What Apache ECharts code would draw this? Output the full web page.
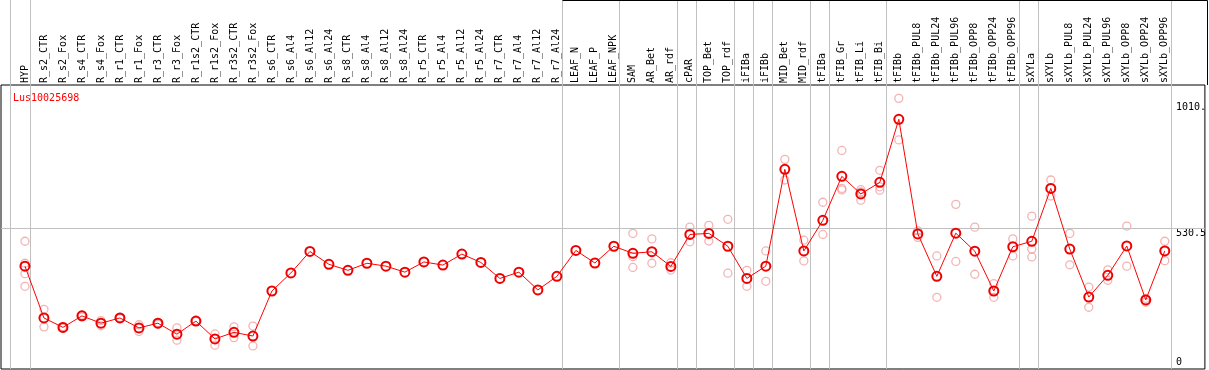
<!DOCTYPE html>
<html>
<head>
<meta charset="utf-8">
<script src="https://cdn.jsdelivr.net/npm/echarts@6/dist/echarts.min.js"></script>
<style>
html,body{margin:0;padding:0;background:#fff;}
#chart{width:1209px;height:370px;}
</style>
</head>
<body>
<div id="chart"></div>
<script>
const categories = ['HYP','R_s2_CTR','R_s2_Fox','R_s4_CTR','R_s4_Fox','R_r1_CTR','R_r1_Fox','R_r3_CTR','R_r3_Fox','R_r1s2_CTR',
  'R_r1s2_Fox','R_r3s2_CTR','R_r3s2_Fox','R_s6_CTR','R_s6_Al4','R_s6_Al12','R_s6_Al24','R_s8_CTR','R_s8_Al4','R_s8_Al12',
  'R_s8_Al24','R_r5_CTR','R_r5_Al4','R_r5_Al12','R_r5_Al24','R_r7_CTR','R_r7_Al4','R_r7_Al12','R_r7_Al24','LEAF_N',
  'LEAF_P','LEAF_NPK','SAM','AR_Bet','AR_rdf','cPAR','TOP_Bet','TOP_rdf','iFIBa','iFIBb',
  'MID_Bet','MID_rdf','tFIBa','tFIB_Gr','tFIB_Li','tFIB_Bi','tFIBb','tFIBb_PUL8','tFIBb_PUL24','tFIBb_PUL96',
  'tFIBb_OPP8','tFIBb_OPP24','tFIBb_OPP96','sXYLa','sXYLb','sXYLb_PUL8','sXYLb_PUL24','sXYLb_PUL96','sXYLb_OPP8','sXYLb_OPP24',
  'sXYLb_OPP96'];

const meanValues = [386,188,152,196,168,188,150,168,126,176,
  108,133,119,291,360,442,393,370,397,386,
  363,402,390,432,400,339,363,295,347,446,
  398,462,435,441,385,507,511,462,339,386,
  756,444,561,729,662,706,947,509,347,512,
  443,291,460,481,683,451,268,351,463,257,
  444];

const rep1 = [481,221,155,199,178,190,162,171,150,178,
  127,154,157,null,null,null,null,null,null,null,
  null,null,null,null,null,null,null,null,null,null,
  null,null,511,490,399,535,542,565,370,444,
  794,485,630,828,670,752,1027,521,425,622,
  535,319,490,577,715,511,306,372,539,263,
  481];

const rep2 = [397,154,149,192,158,186,136,164,103,175,
  84,113,81,null,null,null,null,null,null,null,
  null,null,null,null,null,null,null,null,null,null,
  null,null,422,397,371,479,482,359,309,328,
  715,406,507,683,678,689,868,496,267,404,
  355,267,425,451,654,391,229,332,386,248,
  407];

const rep3 = [357,null,null,null,null,null,null,null,null,null,
  null,null,null,null,null,null,null,null,null,null,
  null,null,null,null,null,null,null,null,null,null,
  null,null,381,null,null,null,null,null,null,null,
  null,null,null,677,638,676,null,null,null,null,
  null,null,null,421,null,null,null,null,null,null,
  null];

const rep4 = [309,null,null,null,null,null,null,null,null,null,
  null,null,null,null,null,null,null,null,null,null,
  null,null,null,null,null,null,null,null,null,null,
  null,null,null,null,null,null,null,null,null,null,
  null,null,null,null,null,null,null,null,null,null,
  null,null,null,null,null,null,null,null,null,null,
  null];

const yTopTicks = [530.5, 1010];
const yTopLabels = ['530.5', '1010.'];
const yBottomTicks = [0];
const yBottomLabels = ['0'];
const groupEnds = [0, 28, 31, 34, 35, 37, 38, 39, 41, 42, 45, 52, 53, 60];
const seriesName = 'Lus10025698';

const FONT = 'DejaVu Sans Mono';
const xMin = -1.261, xMax = 62.112;
const yMin = -7, yMax = 1078;
const separators = [-0.79].concat(groupEnds.map(i => i + 0.25));

function pts(arr) {
  const out = [];
  arr.forEach((v, i) => { if (v !== null) out.push([i, v]); });
  return out;
}

const repStyle = {
  type: 'scatter', xAxisIndex: 1, yAxisIndex: 1,
  symbol: 'circle', symbolSize: 8,
  itemStyle: { color: 'rgba(0,0,0,0)', borderColor: '#f0a0a0', borderWidth: 1.3 },
  z: 3, silent: true
};

function yLabelAxis(ticks, labels, vAlign) {
  return {
    gridIndex: 1, type: 'value', min: yMin, max: yMax, position: 'right',
    axisLine: { show: false }, axisTick: { show: false }, splitLine: { show: false },
    axisLabel: {
      inside: true, customValues: ticks, align: 'left', margin: 29, verticalAlign: vAlign,
      color: '#000', fontFamily: FONT, fontSize: 10,
      formatter: v => { const k = ticks.indexOf(v); return k >= 0 ? labels[k] : String(v); }
    }
  };
}

const chart = echarts.init(document.getElementById('chart'), null, { renderer: 'canvas' });
chart.setOption({
  animation: false,
  textStyle: { fontFamily: FONT },
  title: {
    text: seriesName, left: 8, top: 88,
    textStyle: { color: '#ff0000', fontSize: 10, fontWeight: 'normal', fontFamily: FONT }
  },
  grid: [
    { left: 1, right: 2, top: 0, bottom: 1, show: false },
    { left: 1, right: 2, top: 85, bottom: 1, show: true, borderColor: '#000', borderWidth: 1, backgroundColor: 'transparent' }
  ],
  xAxis: [
    { gridIndex: 0, type: 'value', min: xMin, max: xMax, show: false },
    {
      gridIndex: 1, type: 'value', min: xMin, max: xMax, position: 'top',
      axisLine: { show: false }, axisTick: { show: false }, splitLine: { show: false },
      axisLabel: {
        customValues: categories.map((c, i) => i),
        formatter: v => categories[Math.round(v)],
        rotate: 90, margin: 2, fontSize: 10, color: '#000', fontFamily: FONT
      }
    }
  ],
  yAxis: [
    { gridIndex: 0, type: 'value', min: 0, max: 1, show: false },
    yLabelAxis(yTopTicks, yTopLabels, 'top'),
    yLabelAxis(yBottomTicks, yBottomLabels, 'bottom')
  ],
  graphic: [
    { type: 'polyline', shape: { points: [[562.5, 0.5], [1207.5, 0.5], [1207.5, 85]] },
      style: { stroke: '#000', lineWidth: 1, fill: null }, silent: true, z: 10 }
  ],
  series: [
    {
      type: 'scatter', xAxisIndex: 0, yAxisIndex: 0, data: [], silent: true, z: 1,
      markLine: {
        silent: true, symbol: ['none', 'none'], label: { show: false }, animation: false,
        lineStyle: { color: '#c0c0c0', width: 1, type: 'solid' },
        data: separators.map(v => ({ xAxis: v }))
      }
    },
    Object.assign({}, repStyle, {
      data: pts(rep1),
      markLine: {
        silent: true, symbol: ['none', 'none'], label: { show: false }, animation: false,
        lineStyle: { color: '#c0c0c0', width: 1, type: 'solid' },
        data: [{ yAxis: yTopTicks[0] }]
      }
    }),
    Object.assign({}, repStyle, { data: pts(rep2) }),
    Object.assign({}, repStyle, { data: pts(rep3) }),
    Object.assign({}, repStyle, { data: pts(rep4) }),
    {
      type: 'line', xAxisIndex: 1, yAxisIndex: 1, name: seriesName,
      data: meanValues.map((v, i) => [i, v]),
      lineStyle: { color: '#ff0000', width: 1 },
      symbol: 'circle', symbolSize: 9, showAllSymbol: true,
      itemStyle: { color: 'rgba(0,0,0,0)', borderColor: '#ee0000', borderWidth: 2 },
      z: 5, silent: true
    }
  ]
});
</script>
</body>
</html>
